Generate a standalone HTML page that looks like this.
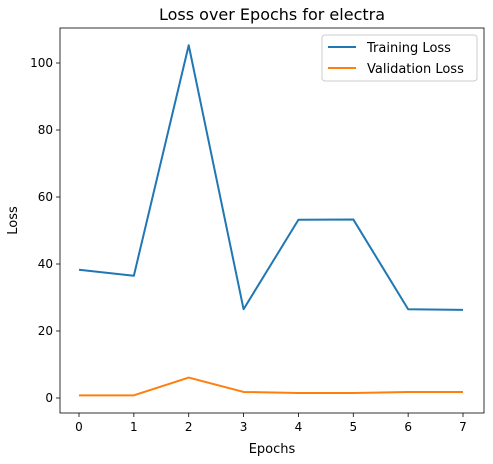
<!DOCTYPE html>
<html><head><meta charset="utf-8"><style>
body{margin:0;background:#fff;font-family:"Liberation Sans","DejaVu Sans",sans-serif;}
svg text{font-family:"DejaVu Sans","Liberation Sans",sans-serif;}
</style></head><body>
<svg id="chart" width="493" height="459" xmlns="http://www.w3.org/2000/svg"></svg>
<script>
const epochs = [0,1,2,3,4,5,6,7];
const trainingLoss = [38.3,36.5,105.3,26.5,53.2,53.3,26.5,26.3];
const validationLoss = [0.8,0.8,6.1,1.8,1.5,1.5,1.8,1.8];
const xTicks = [0,1,2,3,4,5,6,7];
const yTicks = [0,20,40,60,80,100];

const svg = document.getElementById('chart');
const NS = 'http://www.w3.org/2000/svg';
const L=60, R=484, T=28, B=413;
const xs = v => 79 + v*(463-79)/7;
const ys = v => 398 - v*(398-63)/100;
function el(tag, attrs, parent){const e=document.createElementNS(NS,tag);for(const k in attrs)e.setAttribute(k,attrs[k]);(parent||svg).appendChild(e);return e;}

const title = el('text',{x:(L+R)/2,y:20,'text-anchor':'middle','font-size':16,fill:'#000'});
title.textContent='Loss over Epochs for electra';



xTicks.forEach(t=>{
  const g=el('g',{});
  
  
  el('line',{x1:xs(t),x2:xs(t),y1:B,y2:B+4,stroke:'#000','stroke-width':0.8},g);
  const tx=el('text',{x:xs(t),y:B+18,'text-anchor':'middle','font-size':12},g);tx.textContent=t;
});
yTicks.forEach(t=>{
  const g=el('g',{});
  
  
  el('line',{x1:L-4,x2:L,y1:ys(t),y2:ys(t),stroke:'#000','stroke-width':0.8},g);
  const tx=el('text',{x:L-7,y:ys(t)+4,'text-anchor':'end','font-size':12},g);tx.textContent=t;
});
const xl=el('text',{x:(L+R)/2,y:453,'text-anchor':'middle','font-size':13});xl.textContent='Epochs';


const yl=el('text',{x:17,y:(T+B)/2,'text-anchor':'middle','font-size':13,transform:`rotate(-90 17 ${(T+B)/2})`});yl.textContent='Loss';



function series(vals,color,name){
  const p=el('polyline',{points:vals.map((v,i)=>xs(epochs[i])+','+ys(v)).join(' '),fill:'none',stroke:color,'stroke-width':2,'stroke-linejoin':'round'});
  
  
}
series(trainingLoss,'#1f77b4','training-loss-line');
series(validationLoss,'#ff7f0e','validation-loss-line');

const frame=el('rect',{x:L,y:T,width:R-L,height:B-T,fill:'none',stroke:'#000','stroke-width':0.8});



const lg=el('g',{});


el('rect',{x:322,y:35,width:155,height:46,rx:3,fill:'#fff',stroke:'#ccc','stroke-width':1},lg);
[['Training Loss','#1f77b4',47],['Validation Loss','#ff7f0e',68]].forEach(([n,c,y])=>{
  const g=el('g',{},lg);
  
  
  el('line',{x1:328,x2:356,y1:y,y2:y,stroke:c,'stroke-width':2},g);
  const t=el('text',{x:367,y:y+5,'font-size':13},g);t.textContent=n;
});
</script>
</body></html>
